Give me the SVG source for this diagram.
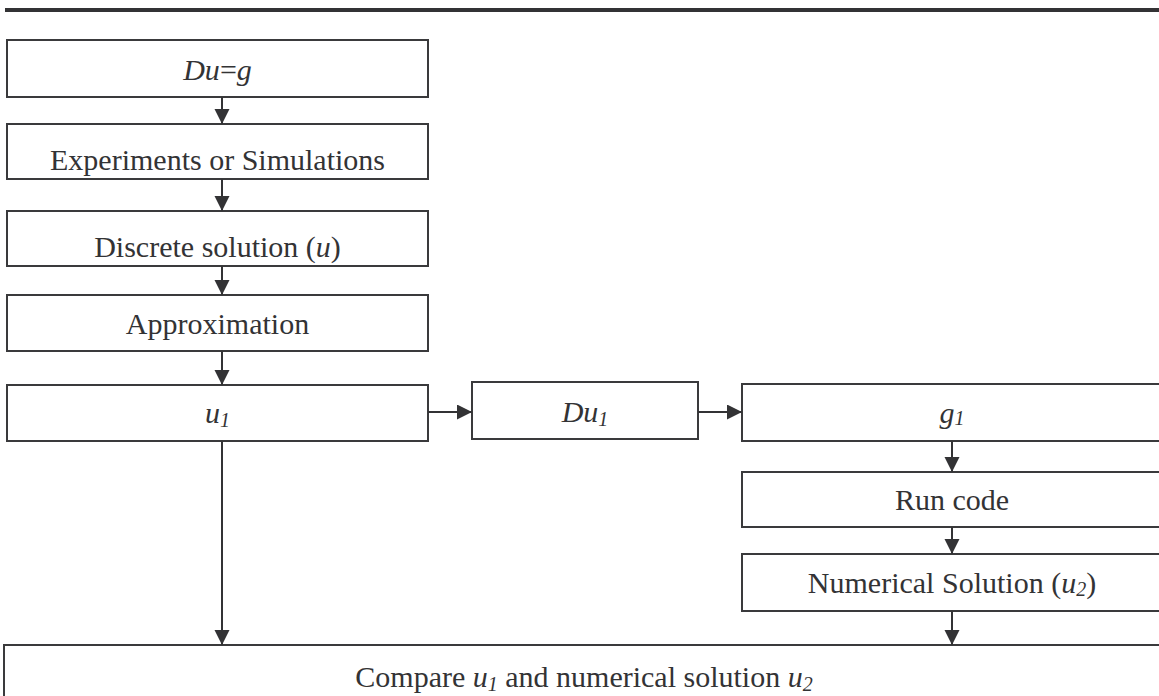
<svg xmlns="http://www.w3.org/2000/svg" width="1159" height="696" viewBox="0 0 1159 696">
<defs>
<style>
.box{fill:#fff;stroke:#3a3a3c;stroke-width:2}
.t{font-family:"Liberation Serif","Times New Roman",serif;font-size:30px;fill:#333335;text-anchor:middle}
.i{font-style:italic}
.s{font-size:20px;font-style:italic}
.c{stroke:#333335;stroke-width:2;fill:none}
</style>
<marker id="ah" markerUnits="userSpaceOnUse" markerWidth="16" markerHeight="16" refX="15" refY="7.5" orient="auto">
<path d="M0,0 L15,7.5 L0,15 Z" fill="#333335"/>
</marker>
</defs>
<rect x="5" y="8" width="1160" height="4" fill="#333335"/>
<g id="n1"><rect class="box" x="7" y="40" width="421" height="57"/><text class="t" x="217.5" y="80"><tspan class="i">Du</tspan>=<tspan class="i">g</tspan></text></g>
<g id="n2"><rect class="box" x="7" y="124" width="421" height="55"/><text class="t" x="217.5" y="170">Experiments or Simulations</text></g>
<g id="n3"><rect class="box" x="7" y="211" width="421" height="55"/><text class="t" x="217.5" y="257">Discrete solution (<tspan class="i">u</tspan>)</text></g>
<g id="n4"><rect class="box" x="7" y="295" width="421" height="56"/><text class="t" x="217.5" y="334">Approximation</text></g>
<g id="n5"><rect class="box" x="7" y="385" width="421" height="56"/><text class="t" x="217.5" y="423"><tspan class="i">u</tspan><tspan class="s" dy="4">1</tspan></text></g>
<g id="n6"><rect class="box" x="472" y="382" width="226" height="57"/><text class="t" x="585" y="422"><tspan class="i">Du</tspan><tspan class="s" dy="4">1</tspan></text></g>
<g id="n7"><rect class="box" x="742" y="384" width="430" height="57"/><text class="t" x="952" y="423"><tspan class="i">g</tspan><tspan class="s" dy="2">1</tspan></text></g>
<g id="n8"><rect class="box" x="742" y="472" width="430" height="55"/><text class="t" x="952" y="510">Run code</text></g>
<g id="n9"><rect class="box" x="742" y="554" width="430" height="57"/><text class="t" x="952" y="593">Numerical Solution (<tspan class="i">u</tspan><tspan class="s" dy="3">2</tspan><tspan dy="-3">)</tspan></text></g>
<g id="n10"><rect class="box" x="4" y="645" width="1170" height="100"/><text class="t" x="584" y="687">Compare <tspan class="i">u</tspan><tspan class="s" dy="4">1</tspan><tspan dy="-4"> and numerical solution </tspan><tspan class="i">u</tspan><tspan class="s" dy="4">2</tspan></text></g>
<g id="connectors">
<line class="c" x1="222" y1="97" x2="222" y2="124" marker-end="url(#ah)"/>
<line class="c" x1="222" y1="179" x2="222" y2="211" marker-end="url(#ah)"/>
<line class="c" x1="222" y1="266" x2="222" y2="295" marker-end="url(#ah)"/>
<line class="c" x1="222" y1="351" x2="222" y2="385" marker-end="url(#ah)"/>
<line class="c" x1="428" y1="412" x2="472" y2="412" marker-end="url(#ah)"/>
<line class="c" x1="698" y1="412" x2="742" y2="412" marker-end="url(#ah)"/>
<line class="c" x1="952" y1="441" x2="952" y2="472" marker-end="url(#ah)"/>
<line class="c" x1="952" y1="527" x2="952" y2="554" marker-end="url(#ah)"/>
<line class="c" x1="952" y1="611" x2="952" y2="645" marker-end="url(#ah)"/>
<line class="c" x1="222" y1="441" x2="222" y2="645" marker-end="url(#ah)"/>
</g>
</svg>
